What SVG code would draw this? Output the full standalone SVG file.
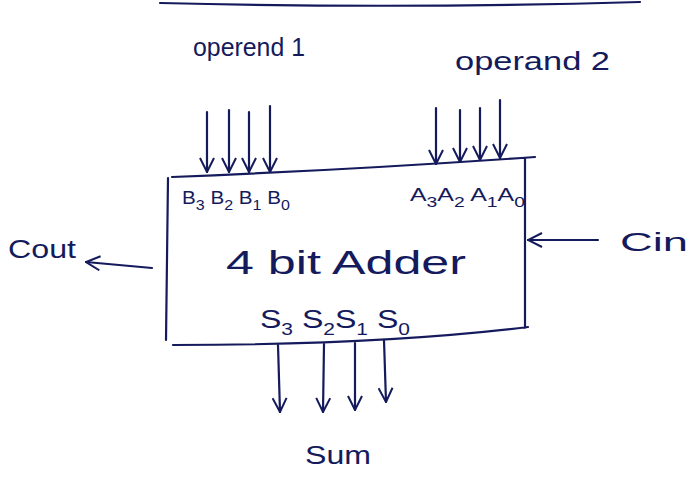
<svg xmlns="http://www.w3.org/2000/svg" width="699" height="484" viewBox="0 0 699 484">
<style>
.ink{stroke:#141a5c;stroke-width:2.2;fill:none;stroke-linecap:round;stroke-linejoin:round}
.t{font-family:"Liberation Sans","DejaVu Sans",sans-serif;fill:#141a5c}
.big{font-size:34px}
.lbl{font-size:26px}
.sm{font-size:18px}
</style>
<defs>
<marker id="ah" viewBox="0 0 16 16" refX="15" refY="8" markerWidth="16" markerHeight="16" markerUnits="userSpaceOnUse" orient="auto">
<path d="M1,1 L15,8 L1,15" fill="none" stroke="#141a5c" stroke-width="2"/>
</marker>
</defs>
<rect width="699" height="484" fill="#ffffff"/>
<path class="ink" d="M160,3 Q400,9 640,2" stroke-width="1.6"/>
<g id="adder">
<path class="ink" d="M168,178 L166,340 M172,177 Q350,170 535,157 M525,158 L525,328 M173,345 Q380,345 528,327"/>
<text class="t big" x="226" y="274" textLength="240" lengthAdjust="spacingAndGlyphs">4 bit Adder</text>
<text class="t sm" x="182" y="204" textLength="108" lengthAdjust="spacingAndGlyphs">B<tspan dy="6" font-size="14">3</tspan><tspan dy="-6"> B</tspan><tspan dy="6" font-size="14">2</tspan><tspan dy="-6"> B</tspan><tspan dy="6" font-size="14">1</tspan><tspan dy="-6"> B</tspan><tspan dy="6" font-size="14">0</tspan></text>
<text class="t sm" x="410" y="201" textLength="115" lengthAdjust="spacingAndGlyphs">A<tspan dy="6" font-size="14">3</tspan><tspan dy="-6">A</tspan><tspan dy="6" font-size="14">2</tspan><tspan dy="-6"> A</tspan><tspan dy="6" font-size="14">1</tspan><tspan dy="-6">A</tspan><tspan dy="6" font-size="14">0</tspan></text>
<text class="t lbl" x="260" y="328" textLength="150" lengthAdjust="spacingAndGlyphs">S<tspan dy="7" font-size="17">3</tspan><tspan dy="-7"> S</tspan><tspan dy="7" font-size="17">2</tspan><tspan dy="-7">S</tspan><tspan dy="7" font-size="17">1</tspan><tspan dy="-7"> S</tspan><tspan dy="7" font-size="17">0</tspan></text>
</g>
<g id="operand1">
<text class="t lbl" x="193" y="56" textLength="112" lengthAdjust="spacingAndGlyphs">operend 1</text>
</g>
<g id="operand2">
<text class="t lbl" x="455" y="70" textLength="155" lengthAdjust="spacingAndGlyphs">operand 2</text>
</g>
<g id="cout">
<text class="t lbl" x="8" y="258" font-size="30" textLength="68" lengthAdjust="spacingAndGlyphs">Cout</text>
</g>
<g id="cin">
<text class="t lbl" x="620" y="251" font-size="30" textLength="68" lengthAdjust="spacingAndGlyphs">Cin</text>
</g>
<g id="sum">
<text class="t lbl" x="305" y="464" font-size="30" textLength="66" lengthAdjust="spacingAndGlyphs">Sum</text>
</g>
<g id="connectors" class="ink" marker-end="url(#ah)">
<path d="M207,112 L207,172"/>
<path d="M229,110 L229,172"/>
<path d="M249,112 L249,172"/>
<path d="M270,106 L270,172"/>
<path d="M436,108 L436,164"/>
<path d="M460,110 L460,162"/>
<path d="M480,108 L480,160"/>
<path d="M500,100 L500,158"/>
<path d="M278,345 L280,412"/>
<path d="M324,344 L323,412"/>
<path d="M355,343 L355,410"/>
<path d="M384,340 L386,402"/>
<path d="M152,268 L86,262"/>
<path d="M598,240 L528,240"/>
</g>
</svg>
